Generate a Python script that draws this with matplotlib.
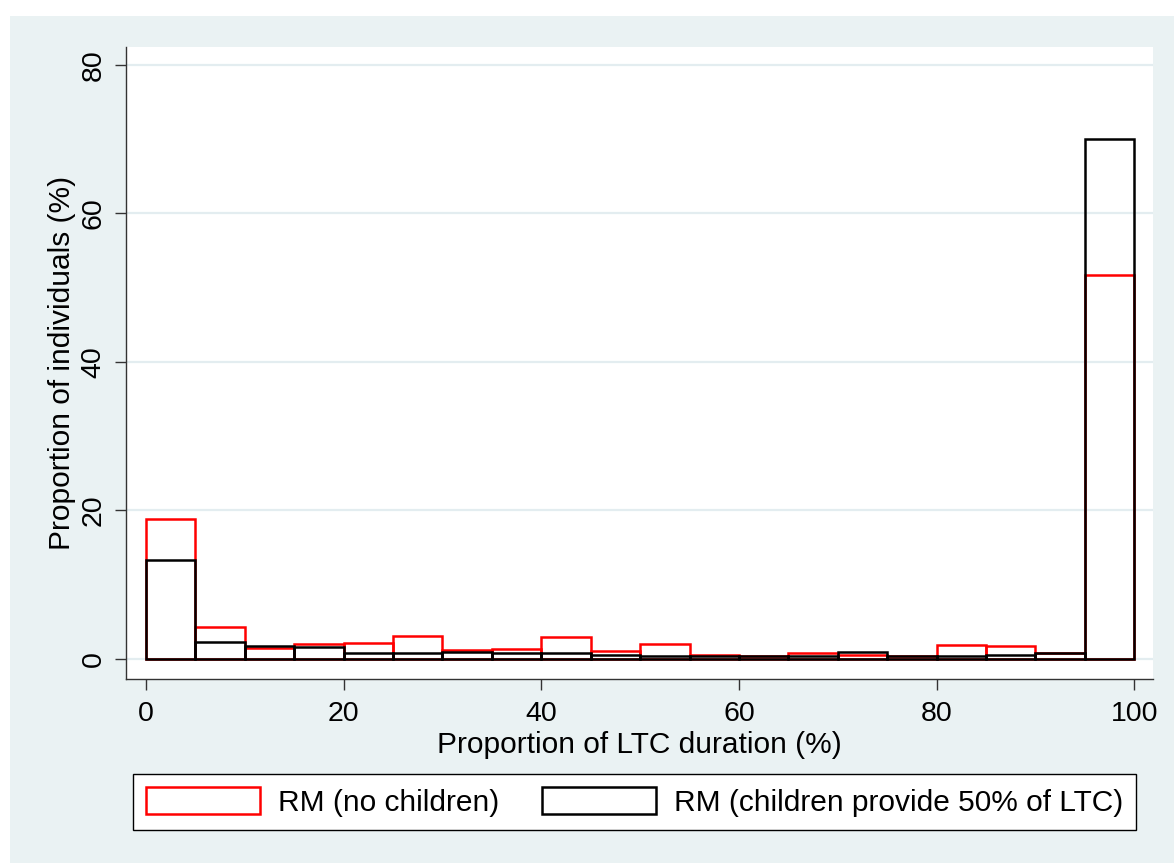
import numpy as np
import matplotlib
matplotlib.use("Agg")
import matplotlib.pyplot as plt
from matplotlib.patches import Rectangle

plt.rcParams['font.family'] = ['Liberation Sans', 'DejaVu Sans']

# Data: histogram bins of width 5 over 0..100 (% of LTC duration)
bin_edges = list(range(0, 105, 5))
no_children = [18.8, 4.35, 1.45, 2.0, 2.2, 3.05, 1.2, 1.3, 2.9, 1.1,
               2.0, 0.6, 0.35, 0.75, 0.5, 0.4, 1.85, 1.75, 0.8, 51.7]
children_50 = [13.3, 2.3, 1.8, 1.65, 0.85, 0.75, 1.0, 0.8, 0.85, 0.6,
               0.35, 0.4, 0.35, 0.4, 0.9, 0.4, 0.45, 0.6, 0.85, 70.0]
series_labels = ["RM (no children)", "RM (children provide 50% of LTC)"]
xticks = [0, 20, 40, 60, 80, 100]
yticks = [0, 20, 40, 60, 80]

W, H = 1174, 863
fig = plt.figure(figsize=(W / 100, H / 100), dpi=100, facecolor='white')
bg = '#EAF2F3'
fig.patches.append(Rectangle((10 / W, 0), 1 - 10 / W, (H - 16) / H,
                             transform=fig.transFigure, facecolor=bg,
                             edgecolor='none', zorder=-10))

ax = fig.add_axes([126 / W, (H - 679) / H, (1153 - 126) / W, (679 - 47) / H])
ax.set_facecolor('white')

left = np.array(bin_edges[:-1])
widths = np.diff(bin_edges)
ax.bar(left, no_children, width=widths, align='edge', facecolor='none',
       edgecolor='#FF0000', linewidth=1.8, label=series_labels[0], zorder=3)
ax.bar(left, children_50, width=widths, align='edge', facecolor='none',
       edgecolor='black', linewidth=1.8, label=series_labels[1], zorder=4)

ax.set_xlim(-2.02, 101.9)
ax.set_ylim(-2.69, 82.4)
ax.set_xticks(xticks)
ax.set_yticks(yticks)
ax.yaxis.grid(True, color='#E3EDF0', linewidth=1.6, zorder=0)
ax.set_axisbelow(True)
for s in ['top', 'right']:
    ax.spines[s].set_visible(False)
for s in ['left', 'bottom']:
    ax.spines[s].set_color('#333333')
    ax.spines[s].set_linewidth(1.0)
ax.tick_params(axis='both', direction='out', length=8, width=1.0,
               color='#333333', labelsize=20.5)
ax.tick_params(axis='x', pad=8)
ax.tick_params(axis='y', pad=6, labelrotation=90)
for lab in ax.get_yticklabels():
    lab.set_va('center')

ax.set_xlabel("Proportion of LTC duration (%)", fontsize=21.5, labelpad=2.5)
ax.set_ylabel("Proportion of individuals (%)", fontsize=21.5, labelpad=3)

leg = fig.legend(loc='upper left', bbox_to_anchor=(133 / W, (H - 774) / H),
                 ncol=2, fontsize=21.5, frameon=True, fancybox=False,
                 edgecolor='black', facecolor='white', framealpha=1,
                 handlelength=3.8, handleheight=1.0, handletextpad=0.6,
                 columnspacing=1.45, borderpad=0.45, borderaxespad=0)
leg.get_frame().set_linewidth(1.0)

fig.savefig('out.png', dpi=100, facecolor=fig.get_facecolor())
